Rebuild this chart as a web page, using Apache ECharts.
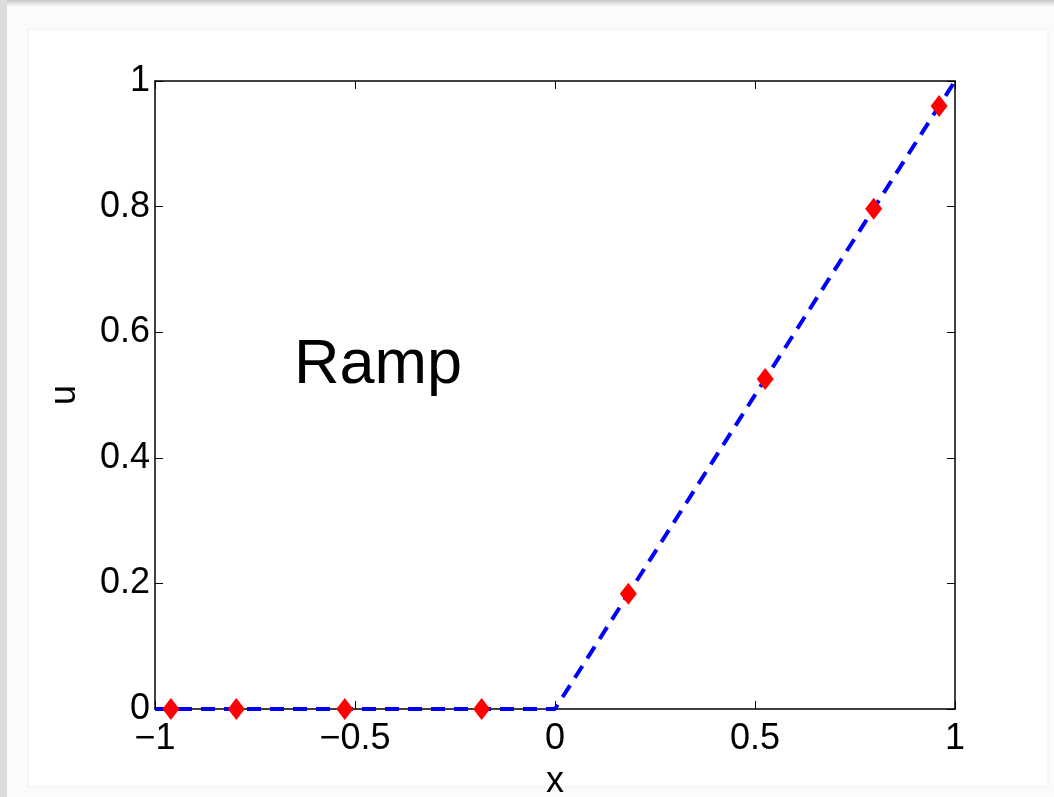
<!DOCTYPE html>
<html>
<head>
<meta charset="utf-8">
<title>Ramp</title>
<script src="https://cdn.jsdelivr.net/npm/echarts@6/dist/echarts.min.js"></script>
<style>
  html, body { margin: 0; padding: 0; background: #fbfbfb; }
  #chart { width: 1054px; height: 797px; }
</style>
</head>
<body>
<div id="chart"></div>
<script>
// Exact ramp u = max(x, 0), drawn as a dashed line
const rampX = [-1, 0, 1];
const rampU = [0, 0, 1];

// Sampled values at the 8 Gauss-Legendre nodes
const nodeX = [-0.9603, -0.7967, -0.5255, -0.1834, 0.1834, 0.5255, 0.7967, 0.9603];
const nodeU = [0, 0, 0, 0, 0.1834, 0.5255, 0.7967, 0.9603];

// Axis ticks
const xTicks = [-1, -0.5, 0, 0.5, 1];
const yTicks = [0, 0.2, 0.4, 0.6, 0.8, 1];

const FONT = '"Liberation Sans", Arial, Helvetica, sans-serif';
const fmt = v => String(v).replace('-', '\u2212');

const chart = echarts.init(document.getElementById('chart'), null, { renderer: 'canvas' });

const tickStyle = { show: true, inside: true, length: 8, lineStyle: { color: '#000', width: 1 } };
const lineStyle = { show: true, onZero: false, lineStyle: { color: '#000', width: 1.5 } };

chart.setOption({
  animation: false,
  backgroundColor: '#fbfbfb',
  graphic: [
    // page panel behind the figure
    { type: 'rect', z: -10, silent: true, shape: { x: 0, y: 0, width: 1054, height: 6 },
      style: { fill: new echarts.graphic.LinearGradient(0, 0, 0, 1, [
        { offset: 0, color: '#c8c8c8' }, { offset: 1, color: '#f6f6f6' }]) } },
    { type: 'rect', z: -10, silent: true, shape: { x: 0, y: 0, width: 7, height: 797 },
      style: { fill: '#dcdcdc' } },
    { type: 'rect', z: -9, silent: true, shape: { x: 28, y: 29, width: 1020, height: 758 },
      style: { fill: '#ffffff', stroke: '#efefef', lineWidth: 1 } },
    // plot annotation
    { type: 'text', left: 294, top: 334, z: 10,
      style: { text: 'Ramp', font: '63px ' + FONT, fill: '#000' } }
  ],
  grid: { left: 155, right: 99, top: 81, bottom: 88, containLabel: false, outerBoundsMode: 'none' },
  xAxis: [
    {
      type: 'value', min: -1, max: 1, interval: 0.5, position: 'bottom',
      name: 'x', nameLocation: 'middle', nameGap: 55,
      nameTextStyle: { fontFamily: FONT, fontSize: 36, color: '#000' },
      axisLine: lineStyle, axisTick: tickStyle, splitLine: { show: false },
      axisLabel: { formatter: fmt, fontFamily: FONT, fontSize: 36, color: '#000', margin: 12 }
    },
    {
      type: 'value', min: -1, max: 1, interval: 0.5, position: 'top',
      axisLine: lineStyle, axisTick: tickStyle, splitLine: { show: false },
      axisLabel: { show: false }
    }
  ],
  yAxis: [
    {
      type: 'value', min: 0, max: 1, interval: 0.2, position: 'left',
      name: 'u', nameLocation: 'middle', nameGap: 72, nameRotate: 90,
      nameTextStyle: { fontFamily: FONT, fontSize: 36, color: '#000' },
      axisLine: lineStyle, axisTick: tickStyle, splitLine: { show: false },
      axisLabel: { formatter: fmt, fontFamily: FONT, fontSize: 36, color: '#000', margin: 5 }
    },
    {
      type: 'value', min: 0, max: 1, interval: 0.2, position: 'right',
      axisLine: lineStyle, axisTick: tickStyle, splitLine: { show: false },
      axisLabel: { show: false }
    }
  ],
  series: [
    {
      type: 'line',
      data: rampX.map((x, i) => [x, rampU[i]]),
      showSymbol: false,
      symbol: 'none',
      clip: true,
      lineStyle: { color: '#0000ff', width: 4, type: [14, 9] },
      z: 3
    },
    {
      type: 'scatter',
      data: nodeX.map((x, i) => [x, nodeU[i]]),
      symbol: 'diamond',
      symbolSize: [17, 22],
      itemStyle: { color: '#ff0000', opacity: 1 },
      clip: false,
      z: 4
    }
  ]
});
</script>
</body>
</html>
